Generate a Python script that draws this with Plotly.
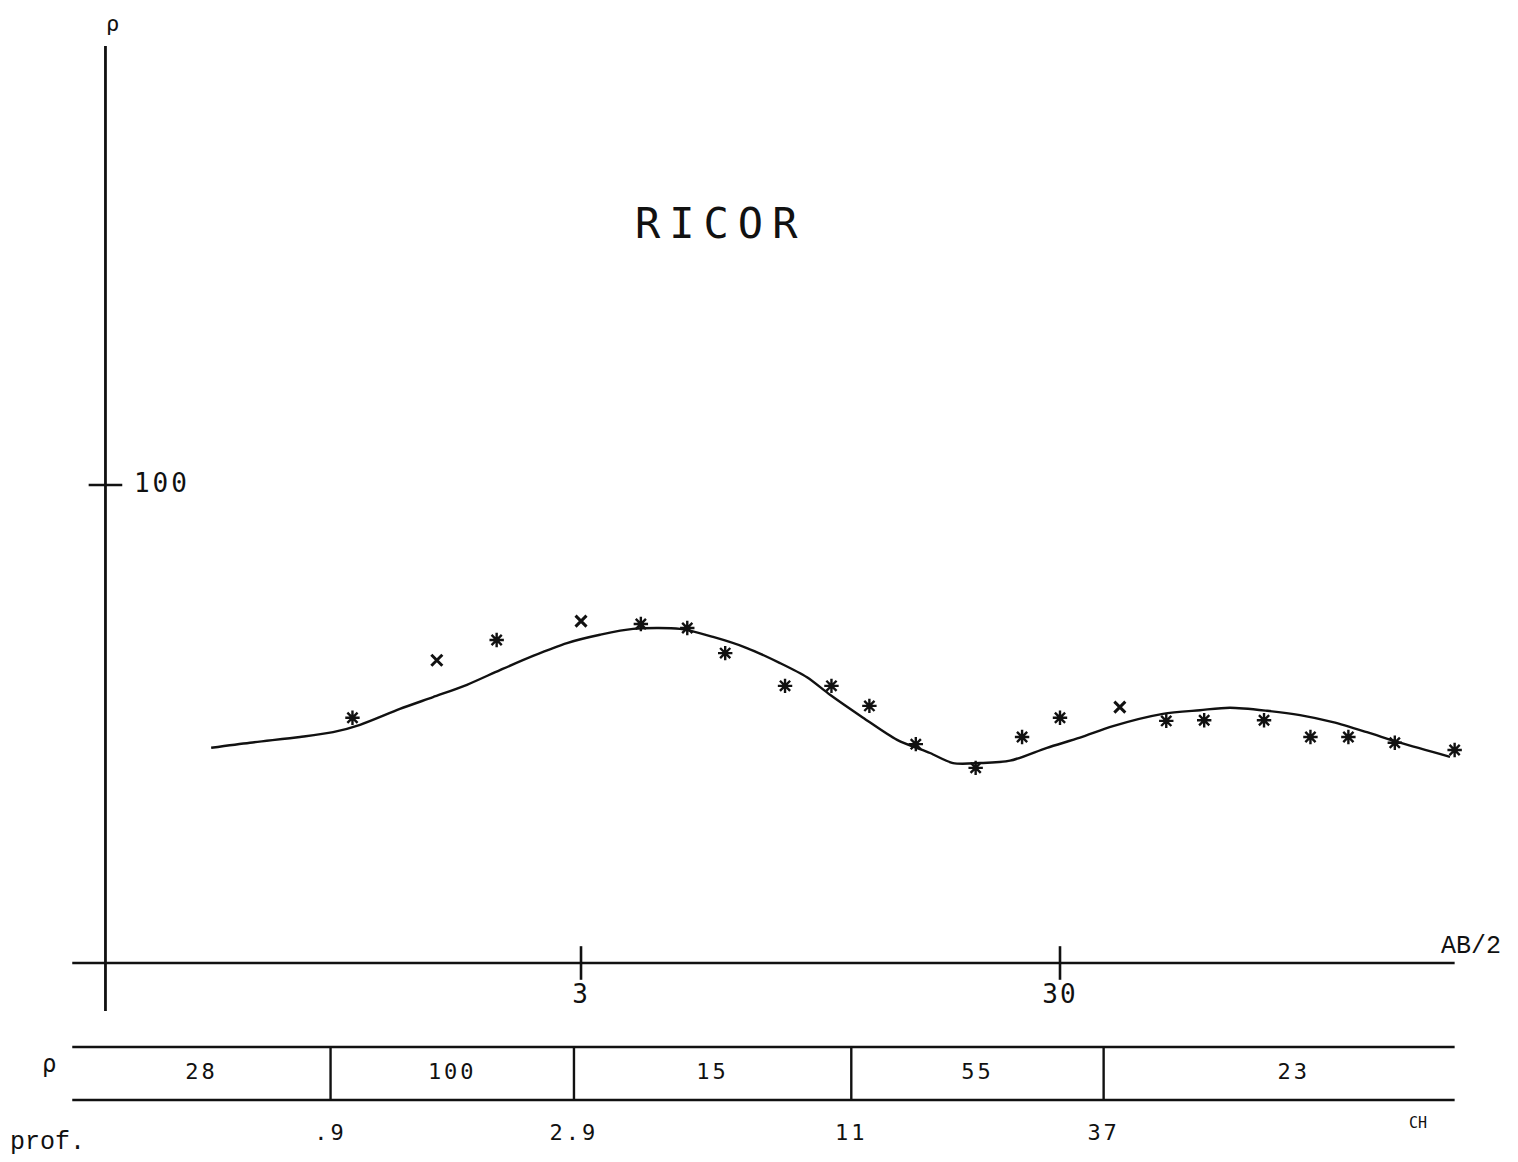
import plotly.graph_objects as go

# ---------------- data ----------------
# measured apparent resistivity (AB/2 in m, rho in ohm.m)
ab2_obs = [1, 1.5, 2, 3, 4, 5, 6, 8, 10, 12, 15, 20, 25, 30, 40, 50, 60, 80, 100, 120, 150, 200]
rho_obs = [32.6, 43.0, 47.4, 51.9, 51.2, 50.2, 44.5, 38.0, 38.0, 34.5, 28.7, 25.6, 29.7, 32.6,
           34.3, 32.1, 32.2, 32.2, 29.7, 29.7, 28.9, 27.9]
obs_symbol = ["*", "x", "*", "x", "*", "*", "*", "*", "*", "*", "*", "*", "*", "*",
              "x", "*", "*", "*", "*", "*", "*", "*"]

# computed model curve
ab2_fit = [0.507, 0.611, 0.777, 0.911, 1.037, 1.256, 1.473, 1.734, 2.032, 2.382, 2.805, 3.287,
           3.853, 4.83, 5.66, 6.66, 7.81, 8.89, 9.93, 11.64, 13.71, 16.06, 17.94, 20.42, 23.59,
           28.18, 33.03, 38.7, 49.2, 58.8, 67.9, 81.2, 95.1, 111.4, 131.2, 153.8, 195.6]
rho_fit = [28.2, 28.9, 29.7, 30.4, 31.5, 34.0, 36.0, 38.2, 41.0, 43.9, 46.7, 48.6,
           50.0, 50.0, 48.1, 45.6, 42.4, 39.6, 36.4, 32.6, 29.3, 27.5, 26.2, 26.2, 26.5,
           28.2, 29.6, 31.3, 33.2, 33.8, 34.2, 33.7, 33.0, 31.9, 30.4, 28.9, 27.0]

# layered model
layer_rho = [28, 100, 15, 55, 23]
layer_depth = [0.9, 2.9, 11, 37]
layer_depth_labels = [".9", "2.9", "11", "37"]

# axes
x_ticks = [3, 30]
x_tick_labels = ["3", "30"]
y_ticks = [100]
y_tick_labels = ["100"]
x_min, x_max = 0.26, 200       # extent of horizontal axis / strip
y_axis_x = 0.305               # position of the vertical axis
y_axis_min, y_axis_max = 7.94, 829
x_axis_y = 10
label_right = 230              # right bound used to centre the last layer label

W, H = 1518, 1162
OFF = 8                        # page body margin of the html output
BLACK = "#111111"
MONO = "DejaVu Sans Mono"


def fx(px):
    return (px - OFF) / W


def fy(py):
    return 1 - (py - OFF) / H


fig = go.Figure()

# axis lines
fig.add_trace(go.Scatter(x=[x_min, x_max], y=[x_axis_y, x_axis_y], mode="lines",
                         line=dict(color=BLACK, width=2.4), hoverinfo="skip"))
fig.add_trace(go.Scatter(x=[y_axis_x, y_axis_x], y=[y_axis_min, y_axis_max], mode="lines",
                         line=dict(color=BLACK, width=2.8), hoverinfo="skip", cliponaxis=False))
# tick marks
fig.add_trace(go.Scatter(x=x_ticks, y=[x_axis_y] * len(x_ticks), mode="markers",
                         marker=dict(symbol="line-ns", size=24, color=BLACK,
                                     line=dict(color=BLACK, width=2.6)),
                         hoverinfo="skip", cliponaxis=False))
fig.add_trace(go.Scatter(x=[y_axis_x] * len(y_ticks), y=y_ticks, mode="markers",
                         marker=dict(symbol="line-ew", size=24, color=BLACK,
                                     line=dict(color=BLACK, width=2.6)),
                         hoverinfo="skip", cliponaxis=False))
# tick labels
fig.add_trace(go.Scatter(x=x_ticks, y=[8.5] * len(x_ticks), mode="text",
                         text=['<span style="letter-spacing:2px">%s</span>' % t for t in x_tick_labels],
                         textposition="middle center",
                         textfont=dict(family=MONO, size=26, color=BLACK), hoverinfo="skip", cliponaxis=False))
fig.add_trace(go.Scatter(x=[0.4] * len(y_ticks), y=y_ticks, mode="text",
                         text=['<span style="letter-spacing:3px">%s</span>' % t for t in y_tick_labels],
                         textposition="middle center",
                         textfont=dict(family=MONO, size=26, color=BLACK), hoverinfo="skip", cliponaxis=False))

# model curve
fig.add_trace(go.Scatter(x=ab2_fit, y=rho_fit, mode="lines",
                         line=dict(color=BLACK, width=2.4, shape="spline", smoothing=0.8),
                         hoverinfo="skip"))
# observations
xs_a = [x for x, s in zip(ab2_obs, obs_symbol) if s == "*"]
ys_a = [y for y, s in zip(rho_obs, obs_symbol) if s == "*"]
xs_x = [x for x, s in zip(ab2_obs, obs_symbol) if s == "x"]
ys_x = [y for y, s in zip(rho_obs, obs_symbol) if s == "x"]
fig.add_trace(go.Scatter(x=xs_a, y=ys_a, mode="markers",
                         marker=dict(symbol="asterisk-open", size=12, color=BLACK,
                                     line=dict(color=BLACK, width=2.4))))
fig.add_trace(go.Scatter(x=xs_x, y=ys_x, mode="markers",
                         marker=dict(symbol="x-thin-open", size=11, color=BLACK,
                                     line=dict(color=BLACK, width=3))))

# ---------------- layered model strip ----------------
sx, sy = [], []
for yy in (0, 1):
    sx += [x_min, x_max, None]
    sy += [yy, yy, None]
for d in layer_depth:
    sx += [d, d, None]
    sy += [0, 1, None]
fig.add_trace(go.Scatter(x=sx, y=sy, mode="lines", line=dict(color=BLACK, width=2.4),
                         xaxis="x2", yaxis="y2", hoverinfo="skip", cliponaxis=False))

bounds = [x_min] + layer_depth + [label_right]
label_x = [(bounds[i] * bounds[i + 1]) ** 0.5 for i in range(len(layer_rho))]
fig.add_trace(go.Scatter(x=label_x, y=[0.5] * len(layer_rho), mode="text",
                         text=['<span style="letter-spacing:3px">%d</span>' % r for r in layer_rho],
                         textposition="middle center",
                         textfont=dict(family=MONO, size=22, color=BLACK),
                         xaxis="x2", yaxis="y2", hoverinfo="skip", cliponaxis=False))
fig.add_trace(go.Scatter(x=layer_depth, y=[-0.66] * len(layer_depth), mode="text",
                         text=['<span style="letter-spacing:3px">%s</span>' % t for t in layer_depth_labels],
                         textposition="middle center",
                         textfont=dict(family=MONO, size=22, color=BLACK),
                         xaxis="x2", yaxis="y2", hoverinfo="skip", cliponaxis=False))

# ---------------- layout ----------------
xdom = [fx(60), fx(1510)]
xr = [-0.6106, 2.4166]
fig.update_layout(
    width=W, height=H,
    margin=dict(l=0, r=0, t=0, b=0),
    paper_bgcolor="white", plot_bgcolor="white",
    showlegend=False,
    xaxis=dict(type="log", range=xr, domain=xdom, visible=False, anchor="y"),
    yaxis=dict(type="log", range=[0.8912, 2.9310], domain=[fy(1015), fy(40)],
               visible=False, anchor="x"),
    xaxis2=dict(type="log", range=xr, domain=xdom, visible=False, anchor="y2"),
    yaxis2=dict(range=[-1.1698, 1.3208], domain=[fy(1162), fy(1030)], visible=False, anchor="x2"),
)


def note(text, px, py, size, family=MONO, spacing=0, yanchor="middle"):
    if spacing:
        text = '<span style="letter-spacing:%dpx">%s</span>' % (spacing, text)
    fig.add_annotation(text=text, x=fx(px), y=fy(py), xref="paper", yref="paper",
                       showarrow=False, xanchor="center", yanchor=yanchor,
                       font=dict(family=family, size=size, color=BLACK))


note("RICOR", 720, 223, 42, spacing=9)
note("ρ", 112, 9, 22, yanchor="top")
note("AB/2", 1471, 946, 25, family="Liberation Mono")
note("ρ", 49, 1064, 24)
note("prof.", 47, 1142, 25, family="Liberation Mono")
note("CH", 1418, 1123, 15)

fig.write_html("out.html")
